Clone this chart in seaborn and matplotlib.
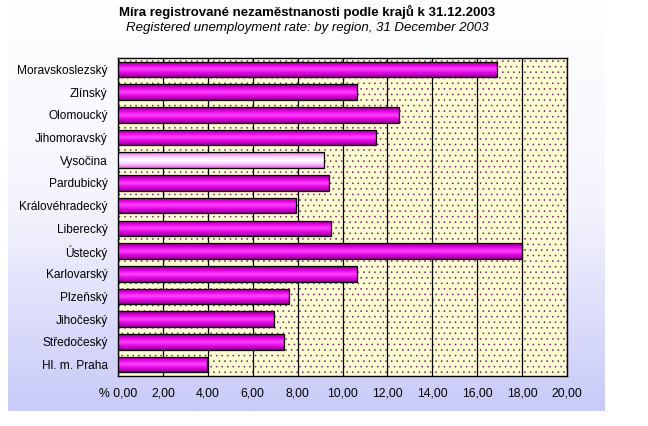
import numpy as np
import pandas as pd
import matplotlib
matplotlib.use('Agg')
import matplotlib.pyplot as plt
import seaborn as sns
from matplotlib.colors import LinearSegmentedColormap

regions = ['Moravskoslezský', 'Zlínský', 'Olomoucký', 'Jihomoravský', 'Vysočina',
           'Pardubický', 'Královéhradecký', 'Liberecký', 'Ústecký', 'Karlovarský',
           'Plzeňský', 'Jihočeský', 'Středočeský', 'Hl. m. Praha']
rates = [16.87, 10.63, 12.50, 11.48, 9.19, 9.41, 7.93, 9.47, 17.98, 10.63,
         7.60, 6.96, 7.41, 3.98]
highlight = 'Vysočina'
xticks = np.arange(0, 21, 2)
xtick_labels = ['% 0,00'] + [f'{v:.2f}'.replace('.', ',') for v in xticks[1:]]

title_cz = 'Míra registrované nezaměstnanosti podle krajů k 31.12.2003'
title_en = 'Registered unemployment rate: by region, 31 December 2003'

df = pd.DataFrame({'region': regions, 'rate': rates})

sns.set_style('white')
plt.rcParams['font.family'] = ['Liberation Sans', 'DejaVu Sans']
plt.rcParams['text.color'] = 'black'
plt.rcParams['xtick.color'] = 'black'
plt.rcParams['ytick.color'] = 'black'
plt.rcParams['hatch.color'] = '#7a1a6a'
plt.rcParams['hatch.linewidth'] = 0.4

fig = plt.figure(figsize=(6.48, 4.26), dpi=100)
fig.patch.set_facecolor('white')

# gradient panel behind the chart
bg = fig.add_axes([8 / 648, 15 / 426, 597 / 648, 411 / 426], zorder=0)
bg_cmap = LinearSegmentedColormap.from_list('bg', ['#ffffff', '#f4f4fd', '#c8caf8'])
bg.imshow(np.linspace(0, 1, 256).reshape(-1, 1), aspect='auto', cmap=bg_cmap,
          extent=[0, 1, 0, 1], origin='upper')
bg.axis('off')

ax = fig.add_axes([118 / 648, 1 - 376 / 426, 449 / 648, 318 / 426], zorder=1)
ax.set_facecolor('#fffdd2')
ax.patch.set_hatch('...')
ax.patch.set_edgecolor('#7a1a6a')
ax.patch.set_linewidth(0)

sns.barplot(data=df, y='region', x='rate', orient='h', color='#cc00cc',
            width=0.69, edgecolor='black', linewidth=0.9, ax=ax, zorder=3)

# cylindrical shading on each bar
grad = np.abs(np.linspace(-1, 1, 64)).reshape(-1, 1)
main_cmap = LinearSegmentedColormap.from_list('m', ['#ff40ff', '#e000e0', '#8a008a'])
hi_cmap = LinearSegmentedColormap.from_list('h', ['#ffffff', '#ffc8ff', '#e060e0'])
for patch, name in zip(ax.patches, regions):
    x0, y0 = patch.get_x(), patch.get_y()
    w, h = patch.get_width(), patch.get_height()
    cmap = hi_cmap if name == highlight else main_cmap
    im = ax.imshow(grad, aspect='auto', cmap=cmap, extent=[x0, x0 + w, y0 + h, y0],
                   zorder=3.5, interpolation='bilinear')
    im.set_clip_path(patch)
    patch.set_facecolor('none')
    patch.set_zorder(4)

ax.set_xlim(0, 20)
ax.set_ylim(len(regions) - 0.5, -0.5)
ax.set_xticks(xticks)
ax.set_xticklabels(xtick_labels, fontsize=8.8)
ax.set_yticks(np.arange(len(regions)))
ax.set_yticklabels(regions, fontsize=8.6)
ax.set_yticks(np.arange(len(regions) + 1) - 0.5, minor=True)
ax.tick_params(axis='y', which='major', length=0, pad=7.5)
ax.tick_params(axis='y', which='minor', length=4, width=0.8, direction='out')
ax.tick_params(axis='x', length=4, width=0.8, direction='out', pad=4)
ax.xaxis.grid(True, color='black', linewidth=0.9, zorder=2)
ax.set_axisbelow(True)
for s in ax.spines.values():
    s.set_color('black')
    s.set_linewidth(1.0)
ax.set_xlabel('')
ax.set_ylabel('')

fig.text(307 / 648, 1 - 12 / 426, title_cz, ha='center', va='center',
         fontsize=9.5, fontweight='bold')
fig.text(307 / 648, 1 - 28 / 426, title_en, ha='center', va='center',
         fontsize=9.5, style='italic')

fig.savefig('out.png', dpi=100)
